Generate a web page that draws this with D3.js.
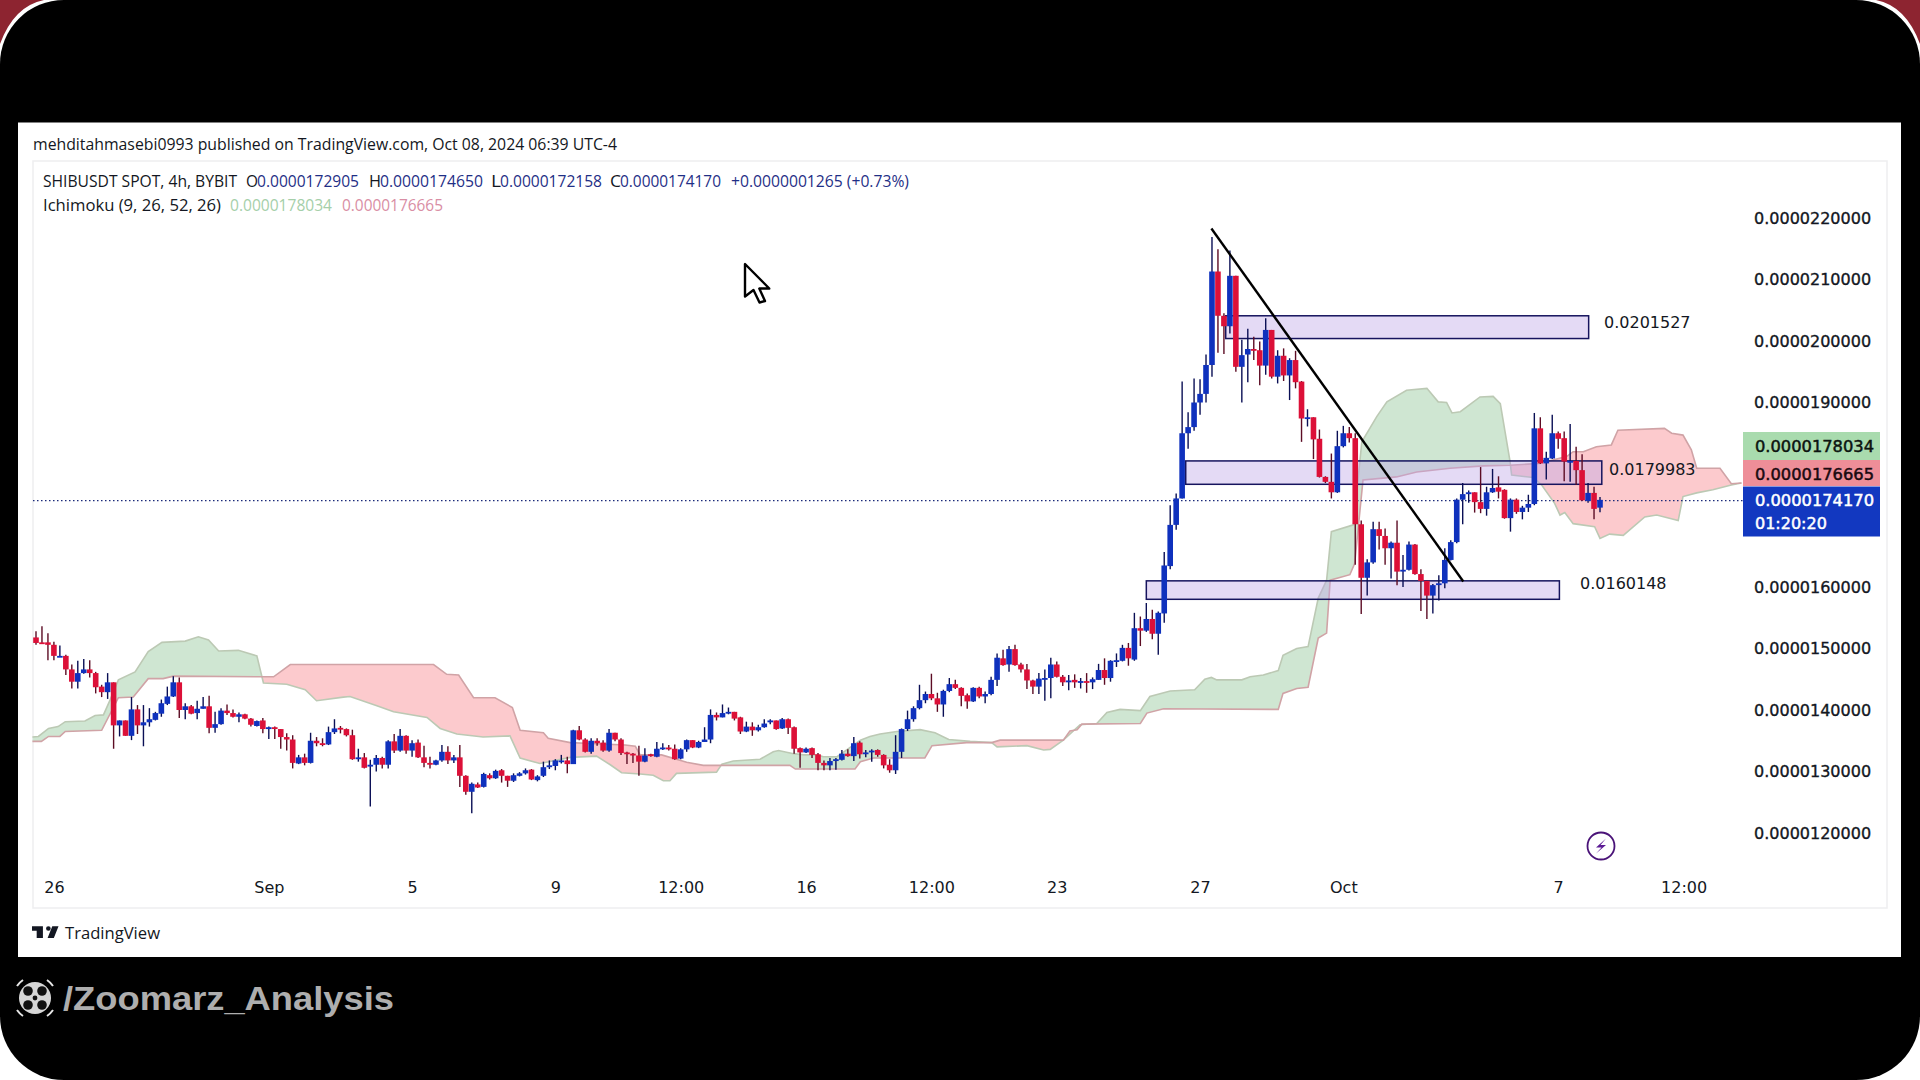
<!DOCTYPE html>
<html>
<head>
<meta charset="utf-8">
<title>SHIBUSDT</title>
<script src="https://cdn.jsdelivr.net/npm/d3@7"></script>
<style>
  html, body { margin: 0; padding: 0; background: #fff; overflow: hidden; }
  svg { display: block; }
  text { font-family: "DejaVu Sans", sans-serif; fill: #131722; }
  .head { font-family: "Open Sans", sans-serif; }
</style>
</head>
<body>
<svg id="chart" width="1920" height="1080"></svg>
<script>
// prices are in units of 0.0000001
const priceUnit = 1e-7

const open = [
  151.8,151.0,151.0,150.6,148.7,148.8,146.6,144.6,146.0,146.6,
  146.0,143.8,142.9,144.5,137.5,138.3,135.8,140.1,137.5,138.0,
  138.4,139.4,141.0,142.2,144.5,140.0,140.6,139.5,140.2,140.6,
  137.1,137.7,139.9,139.5,138.9,139.3,138.6,137.4,138.3,136.9,
  137.2,136.9,135.6,135.2,131.3,132.3,131.4,135.0,134.6,134.4,
  136.4,137.1,136.9,135.9,132.0,132.3,130.8,131.1,132.2,131.1,
  134.9,133.4,135.8,133.4,134.7,132.3,131.4,131.1,131.8,133.2,
  131.8,132.3,129.3,126.7,127.9,127.5,129.4,128.9,130.2,129.3,
  128.5,129.3,129.7,130.3,128.6,129.3,130.7,130.9,131.7,131.8,
  131.2,136.7,135.2,133.2,135.0,134.7,133.4,136.3,135.2,133.1,
  132.9,132.6,131.6,132.8,132.4,133.8,133.9,133.7,132.1,133.6,
  135.1,133.9,134.8,135.2,139.2,138.8,139.6,139.7,138.8,136.5,
  137.3,136.7,137.2,138.0,138.3,137.0,138.5,137.2,133.8,133.1,
  133.8,132.8,131.4,131.0,131.7,131.9,132.9,132.5,134.7,133.0,
  133.2,133.5,132.7,131.1,130.2,133.2,136.9,138.5,140.3,141.6,
  142.6,141.9,140.9,143.1,144.2,143.6,142.4,141.4,143.6,142.2,
  142.6,144.9,148.4,147.4,149.9,147.4,146.6,144.8,143.8,145.1,
  145.2,147.4,145.4,144.5,144.9,144.6,144.7,144.5,144.9,146.5,
  145.2,147.9,148.0,150.1,148.2,153.3,152.9,154.8,152.4,155.7,
  163.4,170.1,174.4,185.0,186.0,190.0,191.4,196.1,211.3,204.1,
  202.4,210.6,195.8,197.8,198.7,198.5,196.0,201.8,194.2,197.6,
  194.4,196.9,193.4,187.5,187.6,184.1,177.9,177.1,175.4,182.9,
  185.0,184.2,170.2,161.5,164.0,169.4,168.3,166.3,167.2,162.6,
  162.8,166.9,162.1,161.0,158.6,160.4,160.6,164.4,167.3,174.2,
  175.1,175.4,173.8,172.7,175.4,176.2,175.8,171.2,174.2,172.2,
  172.9,173.5,185.8,180.1,180.9,185.0,184.2,180.4,180.5,179.0,
  174.0,175.3,172.905
]
const high = [
  152.8,153.6,152.5,151.1,150.5,149.0,147.4,148.0,148.3,148.1,
  146.2,144.1,146.0,144.5,138.3,138.3,142.1,140.8,140.8,140.3,
  139.7,141.7,143.8,145.5,145.3,141.1,140.8,141.5,142.1,142.3,
  139.7,140.3,140.9,140.1,139.6,139.4,138.7,138.3,138.7,137.3,
  137.3,136.9,136.2,135.9,132.7,132.9,136.3,135.6,135.4,137.3,
  138.5,137.4,137.0,136.8,133.7,133.0,131.9,132.7,132.4,135.1,
  136.1,136.9,135.9,135.1,135.2,134.2,132.4,131.9,134.3,134.1,
  132.7,134.3,129.4,128.2,128.2,129.8,129.7,130.3,130.4,129.3,
  129.7,129.9,130.5,130.4,129.4,131.6,131.8,132.0,132.7,132.4,
  136.8,137.4,135.4,135.4,135.4,135.1,136.9,136.3,135.4,133.2,
  133.0,134.2,133.8,132.9,134.8,134.6,134.3,134.4,133.8,135.2,
  135.1,135.0,137.2,140.1,139.6,140.9,140.4,139.7,138.9,138.1,
  138.0,137.6,138.5,138.5,138.3,138.7,138.6,137.3,133.9,133.9,
  133.9,133.0,131.8,132.2,132.2,133.5,133.6,135.6,134.9,133.5,
  133.6,133.6,132.8,132.0,135.9,137.0,139.9,140.6,144.1,143.0,
  145.9,142.8,143.3,145.2,144.9,143.7,142.7,143.7,143.8,143.0,
  145.4,149.2,149.8,150.4,150.6,147.7,147.5,144.9,146.0,146.6,
  148.5,147.9,145.7,145.7,145.8,145.2,146.0,145.3,147.5,148.4,
  148.1,149.2,150.6,150.9,155.8,155.2,157.4,156.3,156.0,165.7,
  173.3,175.2,193.4,188.4,193.9,193.8,197.8,216.9,214.9,204.5,
  214.7,210.6,200.2,202.0,200.7,199.9,203.7,201.8,198.5,198.8,
  197.2,198.4,193.5,188.9,187.6,185.6,178.0,181.7,185.4,186.2,
  186.0,185.0,170.8,164.5,170.6,170.6,169.5,167.4,170.8,165.2,
  167.4,167.0,162.9,161.0,160.5,161.9,166.3,167.6,174.4,176.9,
  175.7,175.4,179.5,176.3,179.2,178.0,175.9,174.4,174.4,173.2,
  175.0,188.3,187.6,182.0,188.0,185.3,185.3,186.5,182.8,181.6,
  176.9,176.3,174.65
]
const low = [
  150.6,150.9,148.1,148.1,148.6,145.7,143.5,143.5,145.9,145.3,
  142.7,142.1,141.8,133.7,135.7,135.8,135.1,136.1,134.1,137.3,
  138.3,138.9,140.8,142.1,138.7,138.5,139.3,138.5,140.2,136.2,
  136.3,137.6,139.2,138.8,138.0,138.5,137.3,137.3,136.2,135.3,
  135.3,133.7,133.4,130.5,131.2,131.0,131.3,134.1,134.1,134.3,
  136.1,136.2,135.7,131.9,131.6,130.5,124.3,130.0,130.5,130.5,
  133.0,133.2,132.9,132.4,132.2,130.7,130.5,131.0,131.6,131.2,
  131.4,127.5,126.2,123.2,127.3,127.4,128.7,128.8,128.2,127.5,
  128.3,129.2,129.5,128.6,128.4,129.1,130.4,130.2,131.3,129.7,
  131.2,135.1,133.1,132.9,134.2,133.2,133.2,134.9,132.7,131.2,
  131.4,129.3,131.5,132.4,132.3,133.5,133.4,131.9,132.0,133.2,
  133.8,133.8,134.8,134.6,138.3,138.8,139.3,138.3,136.1,136.4,
  135.8,136.5,137.1,137.7,136.8,136.9,136.1,132.9,130.6,133.0,
  132.2,130.2,130.2,130.2,130.3,131.8,132.4,131.7,132.1,132.3,
  131.6,132.4,130.5,129.8,129.6,132.2,136.6,138.1,140.1,141.1,
  141.6,139.7,138.9,142.9,143.4,140.6,140.2,141.3,141.9,141.1,
  142.4,143.9,147.2,146.2,147.2,146.1,143.4,142.6,142.6,141.5,
  141.9,145.3,143.9,143.2,143.6,143.5,142.8,143.4,144.9,144.1,
  144.6,147.0,147.9,147.2,148.0,150.4,152.7,151.5,149.0,154.2,
  162.9,169.3,174.4,182.5,185.4,188.0,190.0,194.2,198.1,197.9,
  201.2,195.0,190.0,193.3,196.9,192.8,194.5,193.9,193.1,193.5,
  190.4,192.3,183.6,186.1,180.8,177.8,176.9,174.4,175.3,182.7,
  183.5,163.6,155.6,158.6,163.8,166.1,163.6,161.4,160.3,160.0,
  162.7,162.0,156.1,154.8,155.7,157.8,159.8,164.3,167.1,170.2,
  173.7,172.1,172.0,171.6,175.3,174.4,171.1,169.0,171.9,171.0,
  172.2,173.3,180.0,177.5,180.8,182.5,177.2,177.1,176.6,174.0,
  173.7,171.0,172.158
]
const close = [
  150.9,150.9,150.6,148.8,148.8,146.6,144.6,146.0,146.6,146.0,
  143.7,142.9,144.5,137.5,138.3,135.8,140.1,137.5,138.0,138.5,
  139.5,141.1,142.2,144.5,140.0,140.6,139.4,140.2,140.6,137.1,
  137.7,139.9,139.5,138.9,139.3,138.6,137.6,138.2,136.9,137.2,
  137.0,135.6,135.2,131.4,132.3,131.4,135.0,134.6,134.4,136.4,
  137.0,137.0,135.9,132.0,132.3,130.6,131.1,132.2,131.1,134.9,
  133.4,135.8,133.4,134.6,132.3,131.4,131.1,131.8,133.2,131.8,
  132.3,129.3,126.7,128.0,127.4,129.6,128.9,130.1,129.3,128.5,
  129.4,129.7,130.2,128.7,129.2,130.7,131.0,131.8,131.8,131.2,
  136.7,135.2,133.2,135.0,134.6,133.4,136.3,135.2,133.0,132.9,
  132.6,131.6,132.6,132.5,133.7,133.9,133.6,132.0,133.6,135.1,
  133.9,134.8,135.2,139.2,138.8,139.5,139.7,138.6,136.5,137.3,
  136.7,137.2,137.8,138.3,136.9,138.5,137.1,133.7,133.1,133.7,
  132.7,131.4,131.0,131.7,132.0,132.9,132.5,134.6,132.8,133.1,
  133.4,132.7,131.0,130.2,133.2,136.9,138.5,140.3,141.6,142.6,
  141.9,140.9,143.1,144.2,143.6,142.3,141.4,143.6,142.2,142.6,
  144.9,148.5,147.3,149.9,147.3,146.6,144.8,143.8,145.1,145.2,
  147.4,145.4,144.5,144.8,144.5,144.7,144.6,145.0,146.5,145.2,
  148.0,148.1,150.1,148.4,153.3,152.9,154.8,152.4,155.8,163.5,
  170.1,174.4,185.0,186.0,190.0,191.4,196.1,211.3,204.1,202.4,
  210.6,195.8,197.7,198.7,198.5,196.0,201.8,194.2,197.6,194.4,
  196.9,193.3,187.4,187.6,184.0,177.9,177.1,175.4,182.9,185.0,
  184.2,170.2,161.5,164.0,169.4,168.3,166.3,167.2,162.5,162.8,
  166.9,162.1,161.0,158.6,160.3,160.6,164.4,167.3,174.2,175.1,
  175.4,173.8,172.7,175.4,176.1,175.5,171.2,174.2,172.2,172.9,
  173.5,185.8,180.1,181.0,185.0,184.1,180.4,180.5,179.0,174.1,
  175.3,172.7,174.17
]

// ichimoku cloud edges, read at the bars where the edge bends
const spanABars = [
  -0.6,0.4,2.1,3.7,4.9,8.2,9.9,11.3,12.4,13.8,
  16.6,18.8,21.1,25.0,27.2,28.9,30.6,33.9,37.0,38.1,
  42.0,45.1,47.0,51.5,52.6,57.1,59.9,65.5,67.7,70.5,
  74.9,79.4,81.1,84.4,89.5,93.9,96.2,98.1,101.2,103.4,
  105.1,106.2,107.3,114.0,114.9,116.8,121.3,123.5,124.4,126.9,
  128.6,130.8,131.9,134.2,138.1,139.7,141.4,144.2,148.1,150.6,
  152.9,156.5,160.1,161.0,166.0,168.8,169.9,172.1,174.9,177.7,
  179.4,181.6,185.0,186.6,190,194.1,195.8,196.9,197.8,202,
  203.4,205.6,208.1,208.9,211.2,213.1,214.8,216.2,217.0,220.7,
  222.1,224.6,226.3,229.6,233.0,234.9,236.3,237.2,238.6,241.9,
  244.1,245.3,246.9,247.2,250.8,252.2,254.4,255.3,256.1,257.5,
  261.1,262.0,263.6,265.9,269.5,271.5,275.1,275.9,278.2,280.9,
  284.0,285.7
]
const spanAValues = [
  135.6,135.7,137.0,137.3,138.1,138.2,139.1,139.2,141.6,144.9,
  146.2,149.5,151.0,151.2,151.9,151.4,149.6,149.7,148.8,144.4,
  144.2,143.3,141.5,142.1,142.2,140.7,139.7,138.8,137.0,136.1,
  135.6,135.8,132.2,131.3,132.3,132.5,131.1,129.8,129.6,129.4,
  128.5,128.5,129.7,129.9,131.2,131.7,132.0,133.2,133.4,132.9,
  132.7,132.7,132.4,132.4,135.1,135.7,136.1,136.5,136.8,136.3,
  135.2,134.9,134.7,134.0,134.2,133.5,133.6,135.1,137.6,137.8,
  139.6,140.1,139.9,142.2,143.1,143.3,145.0,145.3,144.9,144.9,
  145.4,145.7,146.4,148.9,150.0,150.3,158.2,161.1,169.0,170.1,
  183.6,187.7,190.1,192.0,192.3,190.1,190.0,188.3,188.5,190.9,
  191.0,189.8,180.6,178.2,177.8,176.6,173.6,171.7,172.1,170.3,
  169.8,167.9,168.6,168.4,171.4,171.7,170.8,174.7,175.3,175.8,
  176.6,176.9
]
const spanBBars = [
  -0.6,0.9,2.1,4.0,4.9,11.0,13.8,16.3,18.8,21.3,
  23.0,37.5,39.8,42.6,66.6,68.8,70.8,73.3,76.9,79.8,
  81.1,85.0,85.8,89.5,98.7,100.4,101.2,104.8,109.0,111.8,
  126.3,127.2,137.2,138.1,140.3,148.9,150.1,155.9,160.1,161.5,
  172.1,173.2,174.4,175.2,185.0,186.1,188.9,208.1,208.9,211.2,
  213.1,214.8,216.2,216.8,220.1,220.9,222.3,225.7,227.9,231.3,
  236.9,242.5,246.9,251.9,256.4,257.5,259.2,261.4,263.9,265.0,
  272.8,274.0,275.9,277.3,278.2,282.1,284.0,285.7
]
const spanBValues = [
  134.9,134.9,135.7,135.7,136.5,136.7,142.0,142.1,145.1,145.1,
  145.5,145.4,145.4,147.4,147.4,145.8,145.7,142.0,142.0,140.4,
  136.7,136.3,135.4,134.7,134.3,134.1,132.7,132.7,131.5,131.0,
  131.0,130.4,130.4,131.6,132.2,132.2,134.2,134.7,134.7,135.1,
  135.1,136.6,136.8,137.7,137.8,139.5,140.2,140.1,142.7,143.5,
  143.7,151.7,152.5,161.1,162.0,163.8,177.4,177.7,177.9,178.7,
  179.3,179.7,179.8,180.1,181.2,182.0,182.0,182.8,183.1,185.5,
  185.8,185.0,184.7,182.3,179.3,179.3,176.8,176.9
]

// 170 and 180 sit behind the price tags, so they are left out
const priceTicks = [120, 130, 140, 150, 160, 190, 200, 210, 220]
const timeTickBars = [3, 39, 63, 87, 108, 129, 150, 171, 195, 219, 255, 276]
const timeTickLabels = ['26', 'Sep', '5', '9', '12:00', '16', '12:00', '23', '27', 'Oct', '7', '12:00']

// drawn zones: [first bar, last bar, top price, bottom price]
const zoneBars = [[199.3, 260.1], [192.6, 262.3], [186, 255.2]]
const zonePrices = [[204.1, 200.4], [180.5, 176.7], [161, 158]]
const zoneLabels = ['0.0201527', '0.0179983', '0.0160148']
const trendBars = [196.9, 239.1]
const trendPrices = [218.3, 160.9]
const lastPrice = 174.17

const svg = d3.select('#chart')

const x = d3.scaleLinear().domain([0, 262]).range([36, 1600])
const y = d3.scaleLinear().domain([120, 220]).range([833, 218])

// frame
svg.append('rect').attr('width', 1920).attr('height', 1080).attr('fill', '#fff')
svg.append('path').attr('d', 'M0 0H44Q14 6 0 44Z M1920 0H1876Q1906 6 1920 44Z').attr('fill', '#8d2430')
svg.append('rect').attr('width', 1920).attr('height', 1080).attr('rx', 64).attr('fill', '#000')
svg.append('rect').attr('x', 18).attr('y', 122.5).attr('width', 1883).attr('height', 834.5).attr('fill', '#fff')
svg.append('rect').attr('x', 33).attr('y', 161).attr('width', 1854).attr('height', 747)
  .attr('fill', 'none').attr('stroke', '#eeeef0').attr('stroke-width', 1.5)

// cloud: each colour is the part under one edge and above the other
const below = (bars, vals) => d3.area().x((d, i) => x(bars[i])).y0(y(100)).y1(d => y(d))(vals)
const above = (bars, vals) => d3.area().x((d, i) => x(bars[i])).y0(y(240)).y1(d => y(d))(vals)
const edge = (bars, vals) => d3.line().x((d, i) => x(bars[i])).y(d => y(d))(vals)

const defs = svg.append('defs')
defs.append('clipPath').attr('id', 'aboveB').append('path').attr('d', above(spanBBars, spanBValues))
defs.append('clipPath').attr('id', 'aboveA').append('path').attr('d', above(spanABars, spanAValues))

svg.append('path').attr('d', below(spanABars, spanAValues)).attr('clip-path', 'url(#aboveB)').attr('fill', '#cfe6d2')
svg.append('path').attr('d', below(spanBBars, spanBValues)).attr('clip-path', 'url(#aboveA)').attr('fill', '#fccacd')
svg.append('path').attr('d', edge(spanABars, spanAValues)).attr('fill', 'none').attr('stroke', '#bcc9b4').attr('stroke-width', 1.6)
svg.append('path').attr('d', edge(spanBBars, spanBValues)).attr('fill', 'none').attr('stroke', '#d0a3a6').attr('stroke-width', 1.6)

// last price line
svg.append('line').attr('x1', 33).attr('x2', 1743).attr('y1', y(lastPrice) + 0.8).attr('y2', y(lastPrice) + 0.8)
  .attr('stroke', '#1b2a7a').attr('stroke-width', 1.2).attr('stroke-dasharray', '1.5 2.5')

// zones
zoneBars.forEach((b, i) => {
  svg.append('rect')
    .attr('x', x(b[0])).attr('width', x(b[1]) - x(b[0]))
    .attr('y', y(zonePrices[i][0])).attr('height', y(zonePrices[i][1]) - y(zonePrices[i][0]))
    .attr('fill', '#bfa6e6').attr('fill-opacity', 0.42)
    .attr('stroke', '#16145e').attr('stroke-width', 1.5)
})

// candles
const bars = d3.range(open.length)
const isUp = i => close[i] >= open[i]
svg.append('g').selectAll('line').data(bars).join('line')
  .attr('x1', i => x(i)).attr('x2', i => x(i))
  .attr('y1', i => y(high[i])).attr('y2', i => y(low[i]))
  .attr('stroke', i => isUp(i) ? '#0a0f55' : '#5c0c24').attr('stroke-width', 1.4)
svg.append('g').selectAll('rect').data(bars).join('rect')
  .attr('x', i => x(i) - 2.8).attr('width', 5.6)
  .attr('y', i => y(Math.max(open[i], close[i])))
  .attr('height', i => Math.max(1.8, Math.abs(y(open[i]) - y(close[i]))))
  .attr('fill', i => isUp(i) ? '#0f31bd' : '#dc1038')

// trend line
svg.append('line')
  .attr('x1', x(trendBars[0])).attr('y1', y(trendPrices[0]))
  .attr('x2', x(trendBars[1])).attr('y2', y(trendPrices[1]))
  .attr('stroke', '#000').attr('stroke-width', 2.4)

// zone labels
const zoneLabelX = [1604, 1609, 1580]
const zoneLabelY = [322, 469, 583]
zoneLabels.forEach((t, i) => {
  svg.append('text').attr('x', zoneLabelX[i]).attr('y', zoneLabelY[i] + 6)
    .attr('font-size', 16).attr('fill', '#111').text(t)
})

// axes
const yAxis = d3.axisRight(y).tickValues(priceTicks).tickSize(0)
  .tickFormat(d => (d * priceUnit).toFixed(10))
const yG = svg.append('g').attr('transform', 'translate(1748,0)').call(yAxis)
yG.select('.domain').remove()
yG.selectAll('text').attr('x', 6).attr('font-size', 16).attr('font-family', '"DejaVu Sans"').attr('fill', '#131722')
  .attr('stroke', '#131722').attr('stroke-width', 0.35)

const xAxis = d3.axisBottom(x).tickValues(timeTickBars).tickSize(0)
  .tickFormat((d, i) => timeTickLabels[i])
const xG = svg.append('g').attr('transform', 'translate(0,878.5)').call(xAxis)
xG.select('.domain').remove()
xG.selectAll('text').attr('font-size', 16).attr('font-family', '"DejaVu Sans"').attr('fill', '#131722')

// price tags
const tags = [
  { y: 432, h: 28, fill: '#a9dbae', text: '0.0000178034', color: '#0c1410' },
  { y: 460, h: 26, fill: '#ee8e98', text: '0.0000176665', color: '#1a0a10' },
  { y: 486.5, h: 50, fill: '#1238c0', text: '0.0000174170', color: '#fff' }
]
tags.forEach(t => {
  svg.append('rect').attr('x', 1743).attr('y', t.y).attr('width', 137).attr('height', t.h).attr('fill', t.fill)
  svg.append('text').attr('x', 1755).attr('y', t.y + 19.5).attr('font-size', 16)
    .attr('textLength', 119).attr('lengthAdjust', 'spacingAndGlyphs')
    .style('fill', t.color).style('stroke', t.color).style('stroke-width', 0.5).text(t.text)
})
svg.append('text').attr('x', 1755).attr('y', 529).attr('font-size', 16)
  .style('fill', '#fff').style('stroke', '#fff').style('stroke-width', 0.5).text('01:20:20')

// header texts
svg.append('text').attr('class', 'head').attr('x', 33).attr('y', 150).attr('font-size', 16)
  .attr('textLength', 584).attr('lengthAdjust', 'spacingAndGlyphs')
  .text('mehditahmasebi0993 published on TradingView.com, Oct 08, 2024 06:39 UTC-4')

const navy = '#1f2f86'
const legend = [
  [43, 187, 194, 'SHIBUSDT SPOT, 4h, BYBIT', '#131722'],
  [246, 187, 12, 'O', '#131722'], [257, 187, 102, '0.0000172905', navy],
  [369, 187, 12, 'H', '#131722'], [380, 187, 103, '0.0000174650', navy],
  [491, 187, 10, 'L', '#131722'], [500, 187, 102, '0.0000172158', navy],
  [610, 187, 11, 'C', '#131722'], [620, 187, 101, '0.0000174170', navy],
  [731, 187, 178, '+0.0000001265 (+0.73%)', navy],
  [43, 210.5, 178, 'Ichimoku (9, 26, 52, 26)', '#131722'],
  [230, 210.5, 102, '0.0000178034', '#a5cfa9'],
  [342, 210.5, 101, '0.0000176665', '#d98ea4']
]
legend.forEach(l => {
  svg.append('text').attr('class', 'head').attr('x', l[0]).attr('y', l[1]).attr('font-size', 16)
    .attr('textLength', l[2]).attr('lengthAdjust', 'spacingAndGlyphs').style('fill', l[4]).text(l[3])
})

// TradingView logo
svg.append('path').attr('transform', 'translate(32,921.5) scale(0.78)')
  .attr('d', 'M14 6H0v6h6v9h8V6Zm20 0h-8l-6 15h8l6-15Zm-13 6a3 3 0 1 0 0-6 3 3 0 0 0 0 6Z').attr('fill', '#131722')
svg.append('text').attr('class', 'head').attr('x', 65).attr('y', 939).attr('font-size', 16)
  .attr('textLength', 95).attr('lengthAdjust', 'spacingAndGlyphs').text('TradingView')

// cursor
svg.append('path').attr('d', 'M745 264V296.5L753.5 290L759.5 302.5L765 301L759.3 288.5H769.3Z')
  .attr('fill', '#fff').attr('stroke', '#000').attr('stroke-width', 2.4).attr('stroke-linejoin', 'round')

// lightning badge
svg.append('circle').attr('cx', 1601).attr('cy', 846).attr('r', 13.5)
  .attr('fill', '#fff').attr('stroke', '#4a1378').attr('stroke-width', 1.8)
svg.append('path').attr('d', 'M1606 838.5L1596 847.5H1601.5L1596 853.5L1606 845H1600.5Z').attr('fill', '#5b1a94')

// watermark
const reel = svg.append('g').attr('transform', 'translate(35,998)')
reel.append('circle').attr('r', 16).attr('fill', '#d6d6d6')
const holes = [[-7, -7], [7, -7], [-7, 7], [7, 7]]
holes.forEach(h => reel.append('circle').attr('cx', h[0]).attr('cy', h[1]).attr('r', 4.8).attr('fill', '#111'))
reel.append('circle').attr('r', 2.4).attr('fill', '#111')
reel.append('path').attr('d', 'M-18 -12A22 22 0 0 1 -12 -18M18 -12A22 22 0 0 0 12 -18M-18 12A22 22 0 0 0 -12 18M18 12A22 22 0 0 1 12 18')
  .attr('fill', 'none').attr('stroke', '#e6e6e6').attr('stroke-width', 2)
svg.append('text').attr('x', 63).attr('y', 1010).attr('font-size', 34).attr('font-weight', 'bold')
  .style('font-family', '"Liberation Sans"').style('fill', '#aeaeae')
  .attr('textLength', 331).attr('lengthAdjust', 'spacingAndGlyphs').text('/Zoomarz_Analysis')
</script>
</body>
</html>
